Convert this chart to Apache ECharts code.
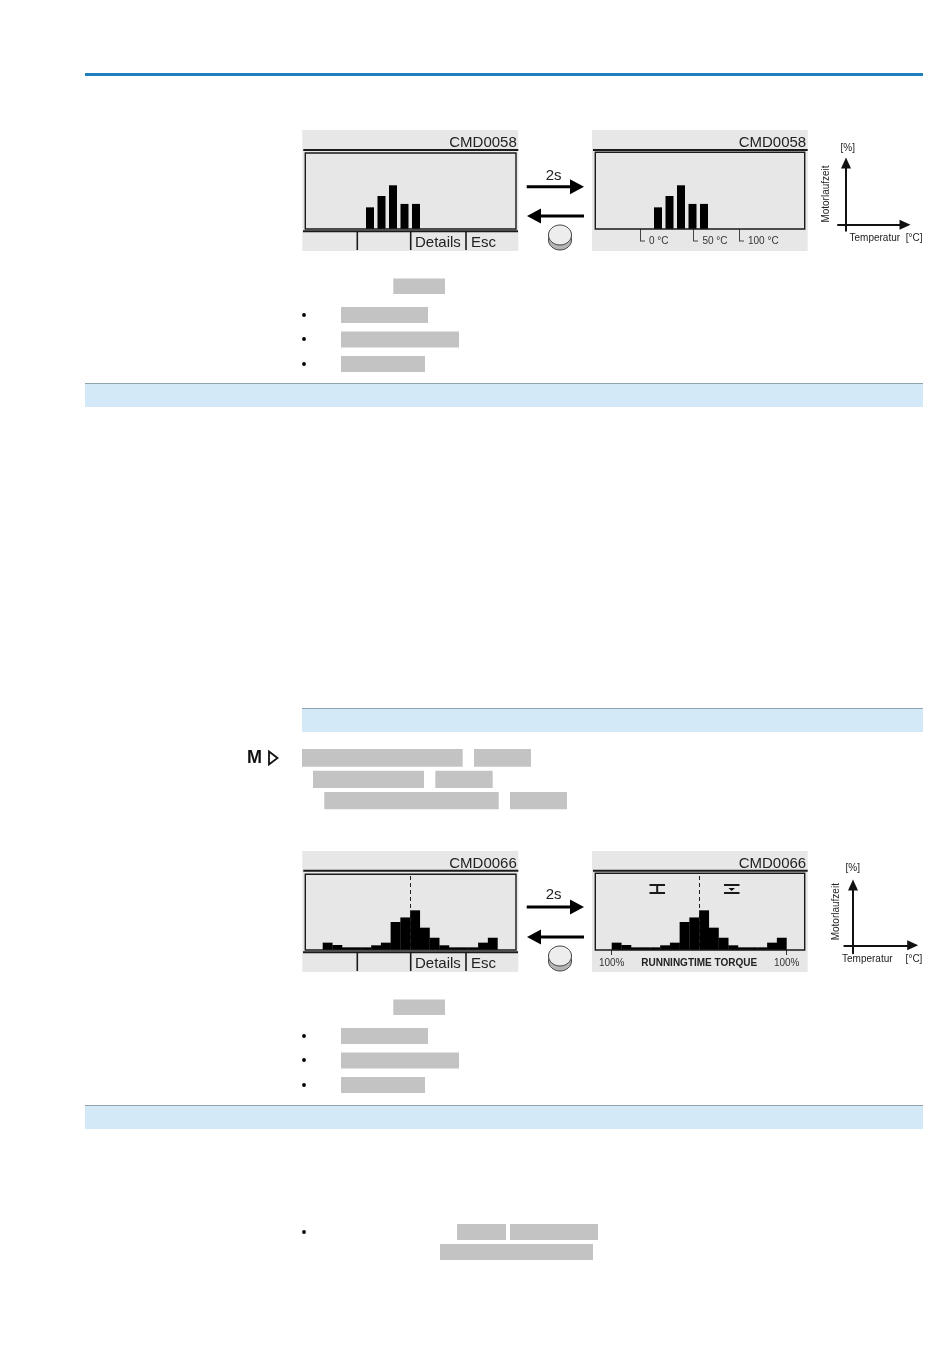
<!DOCTYPE html>
<html>
<head>
<meta charset="utf-8">
<title>CMD0058 CMD0066</title>
<script src="https://cdn.jsdelivr.net/npm/echarts@6/dist/echarts.min.js"></script>
<style>
html,body{margin:0;padding:0;background:#fff;}
#main{width:950px;height:1369px;}
</style>
</head>
<body>
<div id="main"></div>
<script>
// motor running time over temperature, bins in % of the panel height
var tempBins=["b1","b2","b3","b4","b5","b6","b7","b8","b9","b10","b11","b12","b13","b14","b15","b16","b17","b18"];
var tempValues=[0,0,0,0,0,28.5,43.4,57.5,33,33,0,0,0,0,0,0,0,0];
var tempTickLabels=["0 °C","50 °C","100 °C"];
var tempTickValues=[0,54,100];

// motor running time over torque
var torqueBins=["t1","t2","t3","t4","t5","t6","t7","t8","t9","t10","t11","t12","t13","t14","t15","t16","t17","t18"];
var torqueValues=[9.7,6.6,3.5,3.5,3.5,6.2,9.7,37,43,52.4,29.5,16.2,6.2,3.5,3.5,3.5,9.7,16.2];
var torqueTickValues=[-100,100];
var torqueLabelValues=[-100,0,100];

var fontName="Liberation Sans";
var dark="#1a1a1a";

var chart=echarts.init(document.getElementById("main"));
var g=[];

function rect(x0,y0,x1,y1,color,z){
    g.push({type:"rect",z:z==null?-1:z,shape:{x:x0,y:y0,width:x1-x0,height:y1-y0},style:{fill:color}});
}
function line(x0,y0,x1,y1,w,color,z){
    g.push({type:"line",z:z==null?5:z,shape:{x1:x0,y1:y0,x2:x1,y2:y1},style:{stroke:color||dark,lineWidth:w}});
}
function box(x0,y0,x1,y1){
    g.push({type:"rect",z:5,shape:{x:x0,y:y0,width:x1-x0,height:y1-y0},style:{fill:"none",stroke:dark,lineWidth:1.4}});
}
function text(str,x,y,size,align,color,rotation){
    g.push({type:"text",z:6,x:x,y:y,rotation:rotation||0,style:{text:str,fontFamily:fontName,fontSize:size,fill:color||"#222",align:align||"left",verticalAlign:"middle"}});
}
function poly(points,color){
    g.push({type:"polygon",z:6,shape:{points:points},style:{fill:color||"#000"}});
}
function button(cx,cy){
    g.push({type:"ellipse",z:5,shape:{cx:cx,cy:cy+5,rx:11.5,ry:10},style:{fill:"#b4b4b4",stroke:"#444",lineWidth:1}});
    g.push({type:"ellipse",z:6,shape:{cx:cx,cy:cy,rx:11.5,ry:10},style:{fill:"#ededed",stroke:"#444",lineWidth:1}});
}
function arrows(yRight,yLeft,yLabel){
    rect(526.7,yRight-1.5,571,yRight+1.5,"#000",5);
    poly([[570,yRight-7.5],[584,yRight],[570,yRight+7.5]]);
    rect(540,yLeft-1.5,584,yLeft+1.5,"#000",5);
    poly([[541,yLeft-7.5],[527,yLeft],[541,yLeft+7.5]]);
    text("2s",553.7,yLabel,15,"center");
}

// page furniture
rect(85,73,923,76,"#1f7fbc");
rect(85,383,923,407,"#d4e9f8");
rect(85,383,923,384,"#8fa3ae");
rect(302,708,923,732,"#d4e9f8");
rect(302,708,923,709,"#8fa3ae");
rect(85,1105,923,1129,"#d4e9f8");
rect(85,1105,923,1106,"#8fa3ae");

// blanked text blocks
var grey="#c3c3c3";
rect(393.3,278.5,445,294,grey);
rect(341,307,428,323,grey);
rect(341,331.5,459,347.5,grey);
rect(341,356,425,372,grey);
rect(302,749,462.7,766.7,grey);
rect(474,749,531,766.7,grey);
rect(313,770.7,424,788,grey);
rect(435.3,770.7,492.7,788,grey);
rect(324.3,792,498.7,809.3,grey);
rect(510,792,567,809.3,grey);
rect(393.3,999.5,445,1015,grey);
rect(341,1028,428,1044,grey);
rect(341,1052.5,459,1068.5,grey);
rect(341,1077,425,1093,grey);
rect(457,1224,506,1240,grey);
rect(510,1224,598,1240,grey);
rect(440,1244,593,1260,grey);

var bulletY=[315,339,364,1036,1060,1085,1232];
for(var i=0;i<bulletY.length;i++){
    g.push({type:"circle",z:5,shape:{cx:304,cy:bulletY[i],r:1.9},style:{fill:"#000"}});
}

// M and triangle marker
g.push({type:"text",z:6,x:247,y:758.5,style:{text:"M",fontFamily:fontName,fontWeight:"bold",fontSize:18,fill:"#111",verticalAlign:"middle"}});
g.push({type:"polygon",z:6,shape:{points:[[269,751.5],[277.5,758],[269,764.5]]},style:{fill:"none",stroke:"#111",lineWidth:1.8}});

// display panels
function panel(x0,x1,y0,y1,headY,code){
    rect(x0,y0,x1,y1,"#e7e7e7");
    rect(x0+1,headY-1,x1,headY+1,dark,5);
    text(code,x1-1.5,y0+12.5,15,"right");
}
function softKeys(y0,y1,lineY){
    rect(303,lineY-1,518,lineY+1,dark,5);
    line(357.3,lineY,357.3,y1-1,1.6);
    line(410.7,lineY,410.7,y1-1,1.6);
    line(466,lineY,466,y1-1,1.6);
    text("Details",415,(lineY+y1)/2+2,15);
    text("Esc",471,(lineY+y1)/2+2,15);
}
panel(302.3,518.3,130,251,150,"CMD0058");
box(305.3,153,516,229);
softKeys(130,251,231.3);
panel(592,807.7,130,251,150,"CMD0058");
box(595.3,152.3,804.7,229);
panel(302.3,518.3,851,972,870.7,"CMD0066");
box(305.3,874.3,516,950);
softKeys(851,972,952.3);
panel(592,807.7,851,972,870.7,"CMD0066");
box(595.3,873.3,804.7,950);

arrows(186.7,216,176);
button(560,235);
arrows(907,937,895);
button(560,956);

// short feet of the temperature ticks
line(640,241,645,241,1,"#444");
line(693.3,241,698,241,1,"#444");
line(739,241,744,241,1,"#444");

// open/close torque symbols
line(649.5,885,665,885,2);
line(649.5,893,665,893,2);
line(657.2,885,657.2,893,2);
line(724,885,739.5,885,2);
line(724,893,739.5,893,2);
poly([[728.5,888],[735,888],[731.7,891]],"#111");

// small axis diagrams captions
text("[%]",847.7,148,10,"center");
text("Motorlaufzeit",826.7,194,10,"center","#222",Math.PI/2);
text("Temperatur  [°C]",849.5,238,10,"left");
text("[%]",852.7,868,10,"center");
text("Motorlaufzeit",836,911.7,10,"center","#222",Math.PI/2);
text("Temperatur",842,959,10,"left");
text("[°C]",914,959,10,"center");

var hiddenY={type:"value",show:false,min:0,max:100};

function barAxis(gridIndex,bins){
    return {type:"category",gridIndex:gridIndex,show:false,data:bins};
}
function diagramX(gridIndex,min,max){
    return {
        type:"value",gridIndex:gridIndex,min:min,max:max,
        axisLine:{show:true,onZero:true,symbol:["none","triangle"],symbolSize:[10,11],lineStyle:{color:"#111",width:2}},
        axisTick:{show:false},axisLabel:{show:false},splitLine:{show:false}
    };
}
function diagramY(gridIndex,min,max){
    return {
        type:"value",gridIndex:gridIndex,min:min,max:max,
        axisLine:{show:true,onZero:true,symbol:["none","triangle"],symbolSize:[10,11],lineStyle:{color:"#111",width:2}},
        axisTick:{show:false},axisLabel:{show:false},splitLine:{show:false}
    };
}
function torqueAxis(gridIndex,showLabels){
    return {
        type:"value",gridIndex:gridIndex,position:"bottom",min:-100,max:100,show:showLabels,
        axisLine:{show:false},
        splitLine:{show:false},
        axisTick:{show:true,customValues:torqueTickValues,length:5,lineStyle:{color:"#333"}},
        axisLabel:{
            show:true,customValues:torqueLabelValues,margin:8,fontFamily:fontName,fontSize:10,color:"#333",
            rich:{b:{fontFamily:fontName,fontSize:10,fontWeight:"bold",color:"#222"}},
            formatter:function(v){
                return v==0?"{b|RUNNINGTIME TORQUE}":Math.abs(v)+"%";
            }
        }
    };
}
function torqueMark(xIndex,yIndex){
    return {
        type:"line",xAxisIndex:xIndex,yAxisIndex:yIndex,data:[],silent:true,
        markLine:{
            silent:true,symbol:"none",label:{show:false},animation:false,
            lineStyle:{color:"#222",type:[4,3],width:1},
            data:[{xAxis:0}]
        }
    };
}

var option={
    animation:false,
    backgroundColor:"#fff",
    textStyle:{fontFamily:fontName},
    graphic:{elements:g},
    grid:[
        {left:306.75,top:153,width:207,height:76},
        {left:594.75,top:153,width:207,height:76},
        {left:322.7,top:874.3,width:175,height:75.7},
        {left:611.7,top:874.3,width:175,height:75.7},
        {left:838,top:163,width:67,height:67.7},
        {left:844.3,top:885,width:68.4,height:68.3}
    ],
    xAxis:[
        barAxis(0,tempBins),
        barAxis(1,tempBins),
        barAxis(2,torqueBins),
        barAxis(3,torqueBins),
        diagramX(4,-8,59),
        diagramX(5,-8.7,59.7),
        {
            type:"value",gridIndex:1,position:"bottom",min:-45.7,max:163.4,
            axisLine:{show:false},splitLine:{show:false},
            axisTick:{show:true,customValues:tempTickValues,length:12,lineStyle:{color:"#444"}},
            axisLabel:{
                show:true,customValues:tempTickValues,margin:12,align:"left",verticalAlign:"middle",
                padding:[0,0,0,9],fontFamily:fontName,fontSize:10,color:"#333",
                formatter:function(v){
                    return tempTickLabels[tempTickValues.indexOf(v)];
                }
            }
        },
        torqueAxis(2,false),
        torqueAxis(3,true)
    ],
    yAxis:[
        echarts.util.merge({gridIndex:0},hiddenY),
        echarts.util.merge({gridIndex:1},hiddenY),
        echarts.util.merge({gridIndex:2},hiddenY),
        echarts.util.merge({gridIndex:3},hiddenY),
        diagramY(4,-6,61.7),
        diagramY(5,-8,60.3)
    ],
    series:[
        {type:"bar",xAxisIndex:0,yAxisIndex:0,data:tempValues,barWidth:8,itemStyle:{color:"#000"}},
        {type:"bar",xAxisIndex:1,yAxisIndex:1,data:tempValues,barWidth:8,itemStyle:{color:"#000"}},
        {type:"bar",xAxisIndex:2,yAxisIndex:2,data:torqueValues,barWidth:10,itemStyle:{color:"#000"}},
        {type:"bar",xAxisIndex:3,yAxisIndex:3,data:torqueValues,barWidth:10,itemStyle:{color:"#000"}},
        torqueMark(7,2),
        torqueMark(8,3)
    ]
};
chart.setOption(option);
</script>
</body>
</html>
